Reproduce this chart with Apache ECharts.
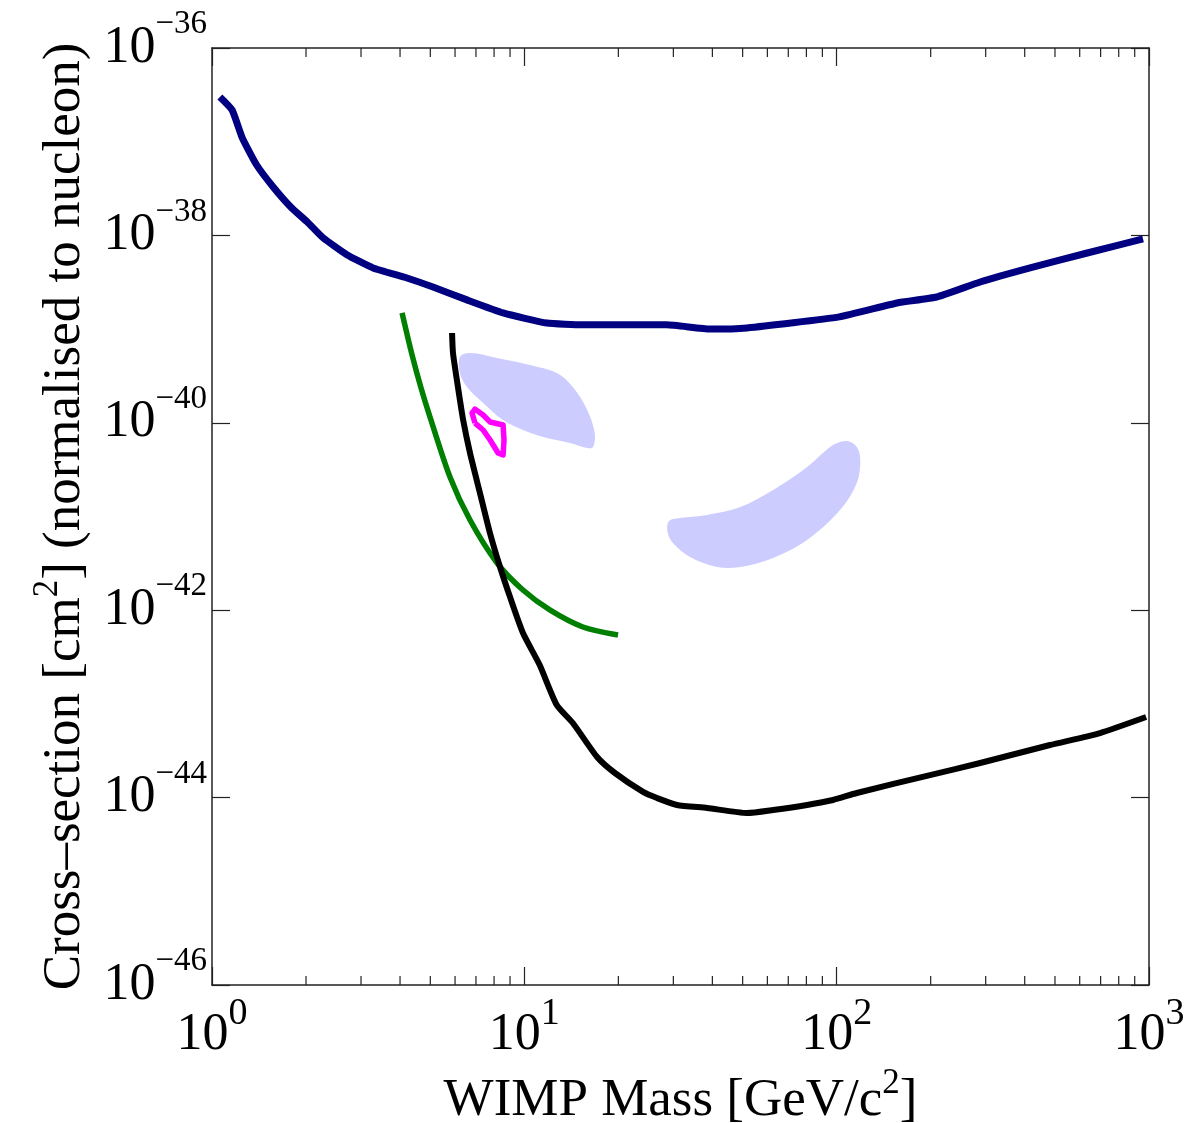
<!DOCTYPE html>
<html>
<head>
<meta charset="utf-8">
<script src="https://cdn.jsdelivr.net/npm/echarts@6/dist/echarts.min.js"></script>
<style>
  html, body { margin: 0; padding: 0; background: #fff; }
  #chart { width: 1201px; height: 1123px; }
</style>
</head>
<body>
<div id="chart"></div>
<script>
// limit curves (mass in GeV/c^2, cross-section in cm^2)
const blueMass  = [1.06, 1.16, 1.25, 1.39, 1.57, 1.80, 2.02, 2.27, 2.71, 3.28, 4.21, 5.10, 6.55, 8.55, 11.8, 15.4, 28.6, 39.3, 51.6, 102, 156, 209, 288, 416, 634, 957];
const blueSigma = [3.0e-37, 2.18e-37, 1.10e-37, 5.64e-38, 3.29e-38, 1.96e-38, 1.39e-38, 9.4e-39, 6.18e-39, 4.49e-39, 3.51e-39, 2.81e-39, 2.05e-39, 1.49e-39, 1.16e-39, 1.11e-39, 1.11e-39, 1.0e-39, 1.03e-39, 1.35e-39, 1.90e-39, 2.20e-39, 3.18e-39, 4.49e-39, 6.49e-39, 9.16e-39];

const greenMass  = [4.06, 4.37, 4.67, 4.99, 5.78, 6.70, 8.18, 9.90, 12.1, 15.4, 19.95];
const greenSigma = [1.49e-39, 5.30e-40, 2.35e-40, 1.15e-40, 2.64e-41, 9.18e-42, 3.19e-42, 1.64e-42, 1.0e-42, 6.62e-43, 5.43e-43];

const blackMass  = [5.87, 5.91, 6.13, 6.37, 6.70, 7.21, 7.76, 8.36, 9.0, 9.90, 11.2, 12.7, 14.3, 17.1, 19.5, 24.0, 26.6, 30.8, 38.5, 51.6, 62.6, 80.4, 97.3, 116, 199, 288, 482, 697, 979];
const blackSigma = [9.08e-40, 5.56e-40, 2.41e-40, 1.07e-40, 4.76e-41, 1.78e-41, 6.67e-42, 2.89e-42, 1.38e-42, 5.71e-43, 2.60e-43, 9.73e-44, 6.25e-44, 2.71e-44, 1.83e-44, 1.15e-44, 9.9e-45, 8.34e-45, 7.75e-45, 6.85e-45, 7.38e-45, 8.34e-45, 9.42e-45, 1.12e-44, 1.74e-44, 2.34e-44, 3.64e-44, 4.89e-44, 7.24e-44];

const pinkMass  = [6.95, 6.80, 6.95, 7.38, 7.77, 8.55, 8.61, 8.55, 8.24, 7.77, 7.38, 7.06, 6.95];
const pinkSigma = [9.95e-41, 1.27e-40, 1.40e-40, 1.21e-40, 1.02e-40, 9.48e-41, 6.55e-41, 4.53e-41, 4.76e-41, 6.55e-41, 8.38e-41, 9.48e-41, 9.95e-41];

// shaded allowed regions (outline points)
const region1Mass  = [6.22, 6.70, 8.18, 10.4, 12.7, 14.3, 15.9, 16.8, 16.6, 15.9, 14.0, 11.5, 9.90, 8.55, 7.38, 6.55, 6.22];
const region1Sigma = [5.04e-40, 5.56e-40, 4.92e-40, 4.14e-40, 3.40e-40, 2.41e-40, 1.37e-40, 7.78e-41, 5.52e-41, 5.38e-41, 6.08e-41, 7.05e-41, 8.38e-41, 1.07e-40, 1.63e-40, 2.41e-40, 3.40e-40];
const region2Mass  = [28.8, 29.9, 38.5, 49.1, 62.6, 80.4, 97.3, 108, 116, 119, 116, 102.5, 80.4, 62.6, 49.1, 41.4, 33.9, 29.9, 28.8];
const region2Sigma = [8.53e-42, 9.40e-42, 1.04e-41, 1.26e-41, 1.92e-41, 3.37e-41, 5.79e-41, 6.40e-41, 5.52e-41, 4.01e-41, 2.28e-41, 1.17e-41, 5.61e-42, 3.61e-42, 2.89e-42, 2.89e-42, 3.70e-42, 5.21e-42, 6.67e-42];

// axis ranges; the cross-section axis runs on decades (10^-46 .. 10^-36)
const xMin = 1, xMax = 1000;
const yMinExp = -46, yMaxExp = -36, yStep = 2;
const xMinorTicks = [2, 3, 4, 5, 6, 7, 8, 9, 20, 30, 40, 50, 60, 70, 80, 90, 200, 300, 400, 500, 600, 700, 800, 900];

const FONT = "'Liberation Serif', 'Times New Roman', serif";
const AXIS_COLOR = '#222';

// pairs [mass, log10(sigma)] for the decade axis
function toPoints(mass, sigma) {
    let out = [];
    for (let i = 0; i < mass.length; i++) out.push([mass[i], Math.log10(sigma[i])]);
    return out;
}

let labelRich = {
    b: { fontFamily: FONT, fontSize: 52, lineHeight: 80, color: '#000', verticalAlign: 'middle' },
    s: { fontFamily: FONT, fontSize: 38, lineHeight: 38, color: '#000', verticalAlign: 'top' },
    sy: { fontFamily: FONT, fontSize: 33, lineHeight: 32, color: '#000', verticalAlign: 'top' }
};

let titleRich = {
    t: { fontFamily: FONT, fontSize: 53, lineHeight: 70, color: '#000', verticalAlign: 'middle' },
    ts: { fontFamily: FONT, fontSize: 35, lineHeight: 34, color: '#000', verticalAlign: 'top' }
};

function xAxisDef(position, withLabels) {
    let ax = {
        type: 'log',
        logBase: 10,
        min: xMin,
        max: xMax,
        interval: 1,
        position: position,
        splitLine: { show: false },
        axisLine: { show: true, lineStyle: { color: AXIS_COLOR, width: 1.5 } },
        axisTick: { show: true, inside: true, length: 18, lineStyle: { color: AXIS_COLOR, width: 1.2 } },
        axisLabel: { show: false }
    };
    if (withLabels) {
        ax.axisLabel = {
            show: true,
            margin: 10,
            formatter: function (v) { return '{b|10}{s|' + Math.round(Math.log10(v)) + '}'; },
            rich: labelRich
        };
        ax.name = '{t|WIMP Mass [GeV/c}{ts|2}{t|]}';
        ax.nameLocation = 'middle';
        ax.nameGap = 66;
        ax.nameTextStyle = { rich: titleRich };
    }
    return ax;
}

function yAxisDef(position, withLabels) {
    let ax = {
        type: 'value',
        min: yMinExp,
        max: yMaxExp,
        interval: yStep,
        position: position,
        splitLine: { show: false },
        axisLine: { show: true, lineStyle: { color: AXIS_COLOR, width: 1.5 } },
        axisTick: { show: true, inside: true, length: 18, lineStyle: { color: AXIS_COLOR, width: 1.2 } },
        axisLabel: { show: false }
    };
    if (withLabels) {
        ax.axisLabel = {
            show: true,
            margin: 5,
            formatter: function (v) { return '{b|10}{sy|\u2212' + Math.abs(Math.round(v)) + '}'; },
            rich: labelRich
        };
        ax.name = '{t|Cross\u2013section [cm}{ts|2}{t|] (normalised to nucleon)}';
        ax.nameLocation = 'middle';
        ax.nameGap = 112;
        ax.nameTextStyle = { rich: titleRich };
    }
    return ax;
}

// short inside ticks between the decades, placed with the x scale
function minorTickSeries() {
    return {
        type: 'custom',
        xAxisIndex: 0,
        yAxisIndex: 0,
        silent: true,
        clip: false,
        data: xMinorTicks.map(v => [v, yMinExp]),
        renderItem: function (params, api) {
            let pb = api.coord([api.value(0), yMinExp]);
            let pt = api.coord([api.value(0), yMaxExp]);
            let st = { stroke: AXIS_COLOR, lineWidth: 1.2 };
            return {
                type: 'group',
                children: [
                    { type: 'line', shape: { x1: pb[0], y1: pb[1], x2: pb[0], y2: pb[1] - 9 }, style: st },
                    { type: 'line', shape: { x1: pt[0], y1: pt[1], x2: pt[0], y2: pt[1] + 9 }, style: st }
                ]
            };
        }
    };
}

function regionSeries(mass, sigma) {
    let pts = toPoints(mass, sigma);
    return {
        type: 'custom',
        xAxisIndex: 0,
        yAxisIndex: 0,
        silent: true,
        data: pts,
        renderItem: function (params, api) {
            if (params.dataIndex !== 0) return null;
            let points = pts.map(p => api.coord(p));
            return {
                type: 'polygon',
                shape: { points: points, smooth: 0.35 },
                style: { fill: '#ccccff', stroke: null }
            };
        }
    };
}

function lineSeries(mass, sigma, colour, width, smooth) {
    return {
        type: 'line',
        xAxisIndex: 0,
        yAxisIndex: 0,
        data: toPoints(mass, sigma),
        showSymbol: false,
        symbol: 'none',
        silent: true,
        smooth: smooth,
        lineStyle: { color: colour, width: width, join: 'round', cap: 'butt' }
    };
}

var myChart = echarts.init(document.getElementById('chart'));

let option = {
    animation: false,
    backgroundColor: '#fff',
    grid: { left: 212, right: 52, top: 48, bottom: 138, containLabel: false, outerBoundsMode: 'none' },
    xAxis: [
        xAxisDef('bottom', true),
        xAxisDef('top', false)
    ],
    yAxis: [
        yAxisDef('left', true),
        yAxisDef('right', false)
    ],
    series: [
        regionSeries(region1Mass, region1Sigma),
        regionSeries(region2Mass, region2Sigma),
        minorTickSeries(),
        lineSeries(blueMass, blueSigma, '#000080', 7, 0.15),
        lineSeries(greenMass, greenSigma, '#007f00', 5.5, 0.3),
        lineSeries(blackMass, blackSigma, '#000000', 6, 0.2),
        lineSeries(pinkMass, pinkSigma, '#ff00ff', 5.5, 0)
    ]
};

myChart.setOption(option);
</script>
</body>
</html>
